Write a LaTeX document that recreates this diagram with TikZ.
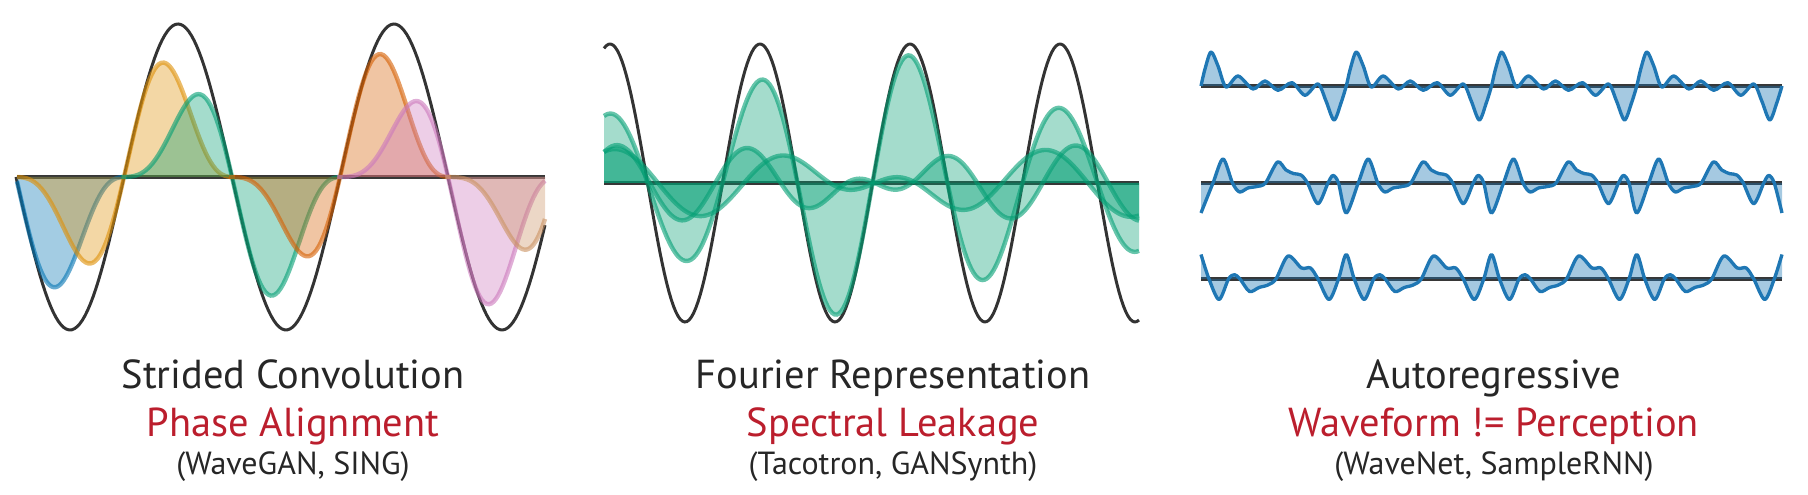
\documentclass[tikz,border=0pt]{standalone}
\usepackage{fontspec}
\setmainfont{PT Sans}
\usetikzlibrary{positioning}

\definecolor{cbblue}{HTML}{0173B2}
\definecolor{cborange}{HTML}{DE8F05}
\definecolor{cbgreen}{HTML}{029E73}
\definecolor{cbred}{HTML}{D55E00}
\definecolor{cbpink}{HTML}{CC78BC}
\definecolor{cbbrown}{HTML}{CA9161}
\definecolor{tabblue}{HTML}{1F77B4}
\definecolor{axisgray}{RGB}{55,55,55}
\definecolor{issuered}{RGB}{187,30,45}
\definecolor{textgray}{RGB}{38,38,38}

% one row of the autoregressive panel: axis y, one period as u/v, last v
\newcommand{\drawwave}[3]{%
  \gdef\wavepts{}%
  \foreach \wk in {0,...,3}{%
    \foreach \wu/\wv in {#2}{%
      \pgfmathsetmacro\px{1201+145.25*\wk+\wu}%
      \pgfmathsetmacro\py{#1-(\wv)}%
      \xdef\wavepts{\wavepts (\px,\py)}%
    }%
  }%
  \pgfmathsetmacro\py{#1-(#3)}%
  \xdef\wavepts{\wavepts (1782,\py)}%
  \edef\wavetmp{\noexpand\fill[WaveFill] (1201,#1) -- plot[smooth] coordinates {\wavepts} -- (1782,#1) -- cycle;
    \noexpand\draw[WaveLine] plot[smooth] coordinates {\wavepts};}%
  \wavetmp
}

\begin{document}
\begin{tikzpicture}
[x=0.01cm, y=-0.01cm,
 AxisLine/.style={draw=axisgray, line width=1.3pt},
 CarrierLine/.style={draw=black!80, line width=0.85pt},
 PulseFill/.style={fill=#1, fill opacity=0.36},
 PulseLine/.style={draw=#1, draw opacity=0.6, line width=1.25pt},
 WaveFill/.style={fill=tabblue, fill opacity=0.4},
 WaveLine/.style={draw=tabblue, line width=0.95pt, line join=round},
 TitleText/.style={anchor=base, inner sep=0pt, text=textgray,
    font=\fontsize{11.5}{14}\selectfont},
 IssueText/.style={anchor=base, inner sep=0pt, text=issuered,
    font=\fontsize{11.5}{14}\selectfont},
 ModelText/.style={anchor=base, inner sep=0pt, text=textgray,
    font=\fontsize{9.1}{11}\selectfont}]
\useasboundingbox (0,0) rectangle (1808,495);

% strided convolution
\draw[CarrierLine] plot[domain=16:545, samples=200] (\x, {177+153*sin((\x-16)/216*360)});
\draw[AxisLine] (17,177) -- (545,177);
\foreach \k/\col in {0/cbblue,1/cborange,2/cbgreen,3/cbred,4/cbpink,5/cbbrown}{
    \pgfmathsetmacro\pc{16+108*\k}
    \pgfmathsetmacro\psign{mod(\k,2)==0 ? -1 : 1}
    \pgfmathsetmacro\pskew{0.1+0.04*\k}
    \pgfmathsetmacro\xa{max(17,\pc-111)}
    \pgfmathsetmacro\xb{min(545,\pc+111)}
    \fill[PulseFill=\col] (\xa,177) -- plot[domain=\xa:\xb, samples=90]
        (\x, {177-\psign*154*sin((\x-\pc)/111*180)*(1+cos((\x-\pc)/111*180))/2*(1+\pskew*(\x-\pc)/37)})
        -- (\xb,177) -- cycle;
    \draw[PulseLine=\col] plot[domain=\xa:\xb, samples=90]
        (\x, {177-\psign*154*sin((\x-\pc)/111*180)*(1+cos((\x-\pc)/111*180))/2*(1+\pskew*(\x-\pc)/37)});
}

% fourier representation
\draw[CarrierLine] plot[domain=604:1139, samples=240] (\x, {183-139*cos((\x-610)/150*360)});
\draw[AxisLine] (604,183) -- (1139,183);
\fill[PulseFill=cbgreen] (604,183) -- plot[domain=604:1139, samples=240]
    (\x, {183-(68+67*exp(-((\x-865)/130)^2))*cos((\x-610)/150*360)}) -- (1139,183) -- cycle;
\draw[PulseLine=cbgreen] plot[domain=604:1139, samples=240]
    (\x, {183-(68+67*exp(-((\x-865)/130)^2))*cos((\x-610)/150*360)});
\foreach \amp/\per/\ph in {38/131/617, 34/172/615}{
    \fill[PulseFill=cbgreen] (604,183) -- plot[domain=604:1139, samples=200]
        (\x, {183+\amp*tanh((\x-875)/80)*cos((\x-\ph)/\per*360)}) -- (1139,183) -- cycle;
    \draw[PulseLine=cbgreen] plot[domain=604:1139, samples=200]
        (\x, {183+\amp*tanh((\x-875)/80)*cos((\x-\ph)/\per*360)});
}

% autoregressive
\foreach \y in {86,183,279}
    \draw[AxisLine] (1201,\y) -- (1782,\y);
\drawwave{86}{0/0,4/17,10/34,17/20,25/-1,37/10,52/-3,64/5,77/-4.3,91/3.3,104/-9.3,117/2,125/-15,133/-34,140/-17}{0}
\drawwave{183}{0/-30,12/0,22/24,31.5/0,38.5/-9,47/-5,56/-3.5,64.5/0,76.5/21,85/13,93/9.3,100/8,106.5/0,117/-20.7,127/0,132/7.5,137.5/0}{-30}
\drawwave{279}{0/24.5,8/0,18/-20.5,27.5/0,33.5/4.3,39/0,48.5/-12.5,58/-8.5,67/-6,75/0,87/23,100.5/11,109.5/11,117/0,128/-20.5,137.5/0}{24.5}

% captions
\foreach \cx/\nm/\ttl/\iss/\mdl in {293/conv/{Strided Convolution}/{Phase Alignment}/{(WaveGAN, SING)},
    893/fourier/{Fourier Representation}/{Spectral Leakage}/{(Tacotron, GANSynth)},
    1494/autoreg/{Autoregressive}/{Waveform != Perception}/{(WaveNet, SampleRNN)}}{
    \node[TitleText] (\nm-title) at (\cx,389) {\ttl};
    \node[IssueText] (\nm-issue) at (\cx,437) {\iss};
    \node[ModelText] (\nm-models) at (\cx,475) {\mdl};
}
\end{tikzpicture}
\end{document}
